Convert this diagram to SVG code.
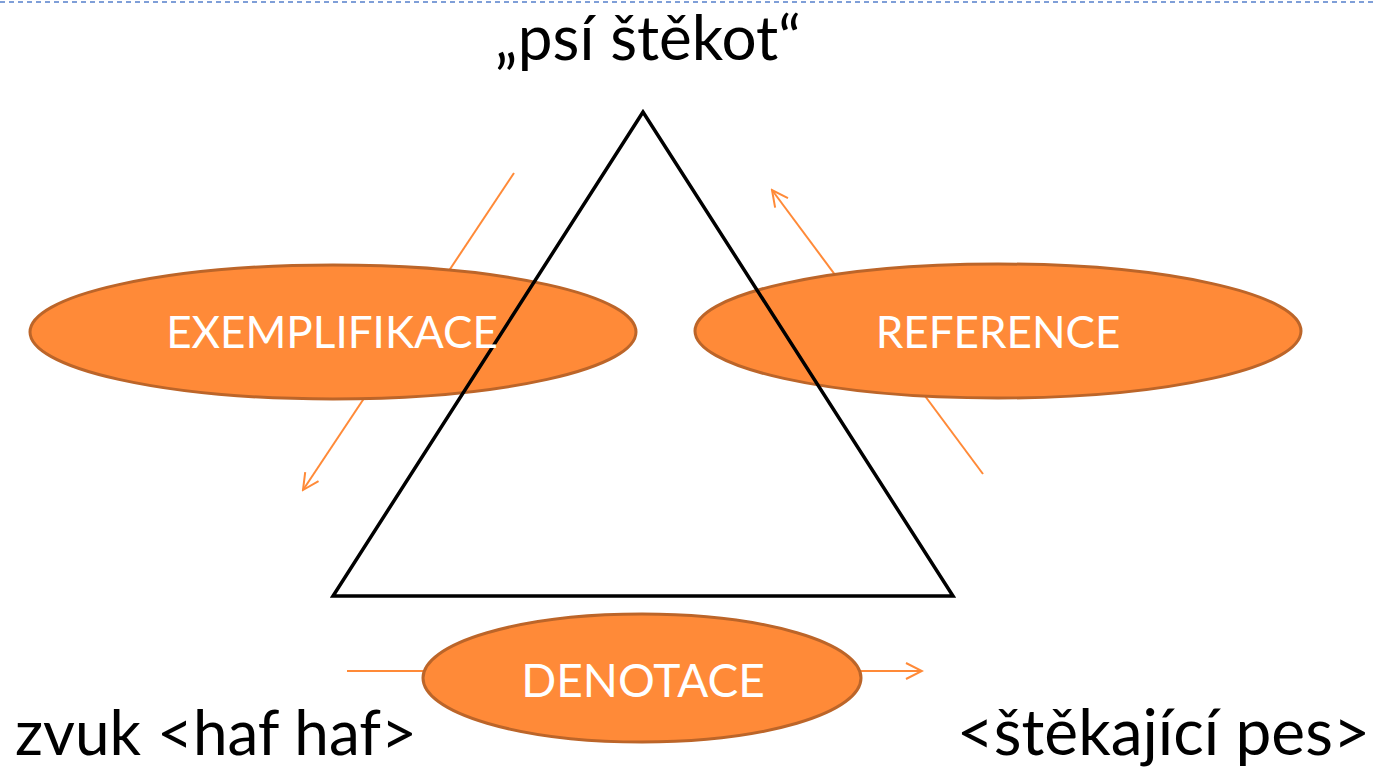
<svg xmlns="http://www.w3.org/2000/svg" width="1375" height="768" viewBox="0 0 1375 768">
<style>
.lbl{font-family:Lato,"Open Sans","Liberation Sans",sans-serif;fill:#fff;font-size:44px;text-anchor:middle}
.txt{font-family:Lato,"Open Sans","Liberation Sans",sans-serif;fill:#000;font-size:62px}
.ell{fill:#FF8A38;stroke:#BC6529;stroke-width:3}
.arr{stroke:#FF8A38;stroke-width:2;fill:none}
</style>
<defs>
<marker id="ah" viewBox="0 0 20 20" refX="18" refY="10" markerWidth="20" markerHeight="20" markerUnits="userSpaceOnUse" orient="auto">
<path d="M2,2 L18,10 L2,18" fill="none" stroke="#FF8A38" stroke-width="2"/>
</marker>
</defs>
<line x1="0" y1="2" x2="1375" y2="2" stroke="#7F9FD8" stroke-width="2" stroke-dasharray="5,4"/>
<g id="connectors">
<line class="arr" x1="514" y1="173" x2="303" y2="490" marker-end="url(#ah)"/>
<line class="arr" x1="983" y1="474" x2="772" y2="190" marker-end="url(#ah)"/>
<line class="arr" x1="347" y1="671" x2="922" y2="671" marker-end="url(#ah)"/>
</g>
<g id="exemplifikace"><ellipse class="ell" cx="333" cy="332" rx="303" ry="67"/></g>
<g id="reference"><ellipse class="ell" cx="998" cy="331" rx="303" ry="67"/></g>
<g id="denotace"><ellipse class="ell" cx="642" cy="678" rx="219" ry="64"/></g>
<g id="triangle"><polygon points="643,112 333,596 953,596" fill="none" stroke="#000" stroke-width="3.5"/></g>
<text class="lbl" x="332" y="348">EXEMPLIFIKACE</text>
<text class="lbl" x="998" y="348">REFERENCE</text>
<text class="lbl" x="643" y="697" style="font-size:46px">DENOTACE</text>
<g id="psi"><text class="txt" x="648" y="60" text-anchor="middle">„psí štěkot“</text></g>
<g id="zvuk"><text class="txt" x="15" y="755">zvuk &lt;haf haf&gt;</text></g>
<g id="pes"><text class="txt" x="1370" y="755" text-anchor="end" style="font-size:64px">&lt;štěkající pes&gt;</text></g>
</svg>
